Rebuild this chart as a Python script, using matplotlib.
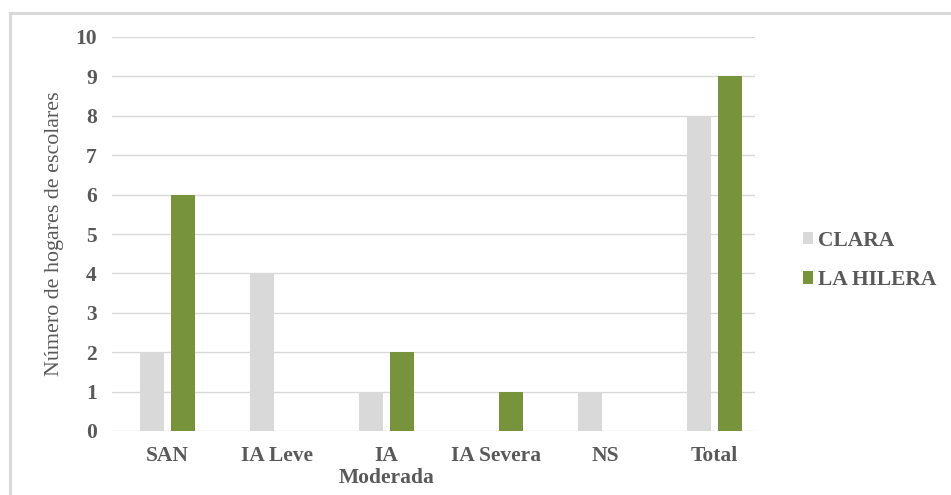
import matplotlib.pyplot as plt
import numpy as np
from matplotlib.patches import Rectangle

categorias = ['SAN', 'IA Leve', 'IA\nModerada', 'IA Severa', 'NS', 'Total']
clara = [2, 4, 1, 0, 1, 8]
la_hilera = [6, 0, 2, 1, 0, 9]
series = ['CLARA', 'LA HILERA']
colores = ['#d9d9d9', '#77933c']

plt.rcParams['font.family'] = ['Liberation Serif', 'DejaVu Serif']

fig = plt.figure(figsize=(9.51, 4.95), dpi=100)
fig.patches.append(Rectangle((9.5 / 951, -0.1), 1.1, (495 - 12.5) / 495 + 0.1,
                             transform=fig.transFigure, fill=False,
                             edgecolor='#d9d9d9', linewidth=2.2))

ax = fig.add_axes([112 / 951, 64 / 495, 643 / 951, 394 / 495])
x = np.arange(len(categorias))
ancho = 0.22
ax.bar(x - 0.14, clara, ancho, color=colores[0], label=series[0], zorder=2)
ax.bar(x + 0.14, la_hilera, ancho, color=colores[1], label=series[1], zorder=2)

ax.set_xlim(-0.51, 5.37)
ax.set_ylim(0, 10)
ax.set_yticks(range(0, 11))
ax.yaxis.grid(True, color='#d9d9d9', linewidth=1, zorder=0)
ax.set_axisbelow(True)
for s in ax.spines.values():
    s.set_visible(False)
ax.tick_params(length=0)
ax.tick_params(axis='y', pad=11)
ax.tick_params(axis='x', pad=11)
ax.set_xticks(x)
ax.set_xticklabels(categorias, fontsize=15.5, fontweight='bold', color='#595959',
                   linespacing=1.1, va='top')
for t in ax.get_yticklabels():
    t.set_fontsize(15.5)
    t.set_fontweight('bold')
    t.set_color('#595959')

ax.set_ylabel('Número de hogares de escolares', fontsize=15.8, color='#595959')
ax.yaxis.set_label_coords(-0.074, 0.5)

ax.legend(loc='center left', bbox_to_anchor=(1.044, 0.433), frameon=False,
          prop={'size': 15.5, 'weight': 'bold'}, labelcolor='#595959',
          handlelength=0.5, handleheight=0.5, handletextpad=0.2, labelspacing=0.9)

fig.savefig('out.png', dpi=100)
